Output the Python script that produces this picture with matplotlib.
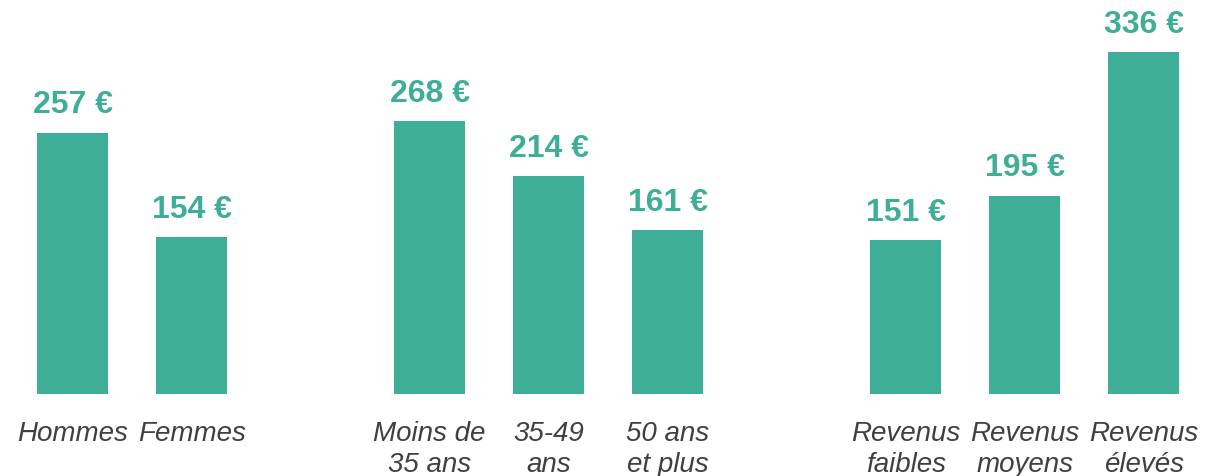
import matplotlib.pyplot as plt

# data
categories = ["Hommes", "Femmes",
              "Moins de\n35 ans", "35-49\nans", "50 ans\net plus",
              "Revenus\nfaibles", "Revenus\nmoyens", "Revenus\nélevés"]
values = [257, 154, 268, 214, 161, 151, 195, 336]
positions = [0, 1, 3, 4, 5, 7, 8, 9]  # gap slot between groups

GREEN = "#3EAE96"
GREY = "#404040"

fig = plt.figure(figsize=(12.05, 4.77), dpi=100)
ax = fig.add_axes([0, 0, 1, 1])

ax.bar(positions, values, width=0.6, color=GREEN)

for x, v, lab in zip(positions, values, categories):
    ax.text(x, v + 28, f"{v} €", ha="center", va="center",
            fontsize=23, fontweight="bold", color=GREEN, family="Liberation Sans")
    ax.text(x, -26, lab, ha="center", va="top", fontsize=20,
            fontstyle="italic", color=GREY, family="Liberation Sans",
            linespacing=1.25)

ax.set_xlim(-0.61, 9.515)
ax.set_ylim(-80.6, 388.4)
ax.axis("off")

fig.savefig("out.png", dpi=100, facecolor="white")
